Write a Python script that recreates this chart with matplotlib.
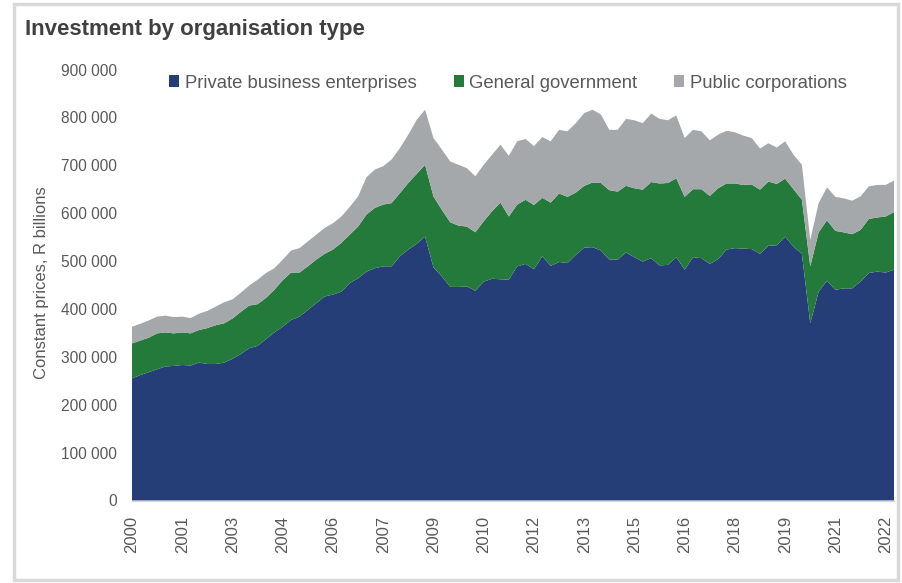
import matplotlib
matplotlib.use('Agg')
import matplotlib.pyplot as plt
from matplotlib.patches import Rectangle
from matplotlib.ticker import FuncFormatter

plt.rcParams['font.family'] = ['Liberation Sans', 'DejaVu Sans']

# quarterly, 2000Q1 .. 2022Q4
quarters = [f'{y}Q{q}' for y in range(2000, 2023) for q in range(1, 5)]

private = [
    255000, 262000, 268000, 274000, 280000, 281000, 283000, 282000, 288000, 285000,
    285000, 288000, 296000, 306000, 318000, 323000, 337000, 351000, 363000, 377000,
    384000, 398000, 412000, 426000, 430000, 436000, 454000, 464000, 478000, 485000,
    489000, 489000, 510000, 524000, 536000, 551000, 487000, 468000, 446000, 446000,
    447000, 438000, 457000, 463000, 462000, 461000, 489000, 494000, 483000, 510000,
    490000, 498000, 496000, 513000, 528000, 529000, 522000, 503000, 503000, 518000,
    508000, 499000, 506000, 491000, 492000, 508000, 482000, 508000, 506000, 494000,
    504000, 524000, 527000, 526000, 525000, 515000, 532000, 533000, 551000, 530000,
    515000, 370000, 436000, 459000, 440000, 443000, 443000, 457000, 475000, 478000,
    476000, 482000,
]
government = [
    73000, 72000, 72000, 75000, 71000, 68000, 68000, 67000, 68000, 75000,
    81000, 82000, 84000, 88000, 89000, 87000, 86000, 89000, 97000, 99000,
    92000, 91000, 91000, 89000, 94000, 102000, 101000, 108000, 119000, 126000,
    129000, 132000, 132000, 139000, 146000, 150000, 148000, 139000, 135000, 128000,
    125000, 122000, 126000, 141000, 160000, 132000, 129000, 134000, 134000, 122000,
    132000, 143000, 138000, 130000, 129000, 135000, 141000, 145000, 142000, 139000,
    144000, 150000, 159000, 171000, 171000, 165000, 152000, 142000, 144000, 142000,
    148000, 138000, 135000, 133000, 135000, 134000, 134000, 128000, 121000, 120000,
    113000, 119000, 124000, 126000, 123000, 117000, 113000, 108000, 113000, 113000,
    117000, 120000,
]
public = [
    35000, 35000, 36000, 35000, 35000, 34000, 33000, 32000, 34000, 36000,
    39000, 44000, 40000, 40000, 42000, 51000, 52000, 45000, 43000, 46000,
    51000, 52000, 52000, 54000, 55000, 55000, 58000, 63000, 78000, 80000,
    80000, 91000, 94000, 101000, 113000, 115000, 122000, 126000, 127000, 127000,
    122000, 117000, 118000, 118000, 121000, 127000, 132000, 127000, 123000, 127000,
    128000, 133000, 137000, 145000, 152000, 152000, 143000, 126000, 129000, 140000,
    142000, 139000, 143000, 135000, 131000, 131000, 123000, 124000, 121000, 116000,
    112000, 110000, 107000, 103000, 97000, 86000, 80000, 76000, 78000, 72000,
    73000, 55000, 61000, 69000, 71000, 71000, 70000, 70000, 68000, 68000,
    66000, 66000,
]

series_labels = ['Private business enterprises', 'General government', 'Public corporations']
colors = ['#253E78', '#237A3B', '#A5A8AA']

W, H = 902, 583
fig = plt.figure(figsize=(W / 100, H / 100), dpi=100)
ax = fig.add_axes([132 / W, 1 - 500.5 / H, (894 - 132) / W, (500.5 - 69.5) / H])

x = list(range(len(quarters)))
ax.stackplot(x, private, government, public, colors=colors,
             labels=series_labels, linewidth=0)

ax.set_xlim(0, len(quarters) - 1)
ax.set_ylim(0, 900000)
ax.set_yticks(range(0, 900001, 100000))
ax.yaxis.set_major_formatter(FuncFormatter(lambda v, p: f'{v:,.0f}'.replace(',', ' ')))

# a label every 6 quarters, year only
tick_pos = list(range(0, len(quarters), 6))
ax.set_xticks(tick_pos)
ax.set_xticklabels([quarters[i][:4] for i in tick_pos], rotation=90)

ax.tick_params(axis='y', length=0, pad=10.8, labelsize=11.2, labelcolor='#595959')
ax.tick_params(axis='x', length=0, pad=11, labelsize=12, labelcolor='#595959')

for s in ['left', 'top', 'right']:
    ax.spines[s].set_visible(False)
ax.spines['bottom'].set_color('#D9D9D9')
ax.spines['bottom'].set_linewidth(1)

fig.text(42 / W, 1 - 283 / H, 'Constant prices, R billions', rotation=90,
         ha='center', va='center', fontsize=12, color='#595959')
fig.text(25 / W, 1 - 29 / H, 'Investment by organisation type', ha='left', va='center',
         fontsize=16, fontweight='bold', color='#404040')

handles, labels = ax.get_legend_handles_labels()
fig.legend(handles, labels, loc='center', bbox_to_anchor=(508 / W, 1 - 83 / H), ncol=3,
           frameon=False, fontsize=13.3, handlelength=0.55, handleheight=0.55,
           handletextpad=0.3, columnspacing=2.0, labelcolor='#595959')

fig.patches.append(Rectangle((14 / W, 3 / H), (898 - 14) / W, (579 - 3) / H,
                             transform=fig.transFigure, fill=False,
                             edgecolor='#D9D9D9', linewidth=2.5))

fig.savefig('out.png', dpi=100)
